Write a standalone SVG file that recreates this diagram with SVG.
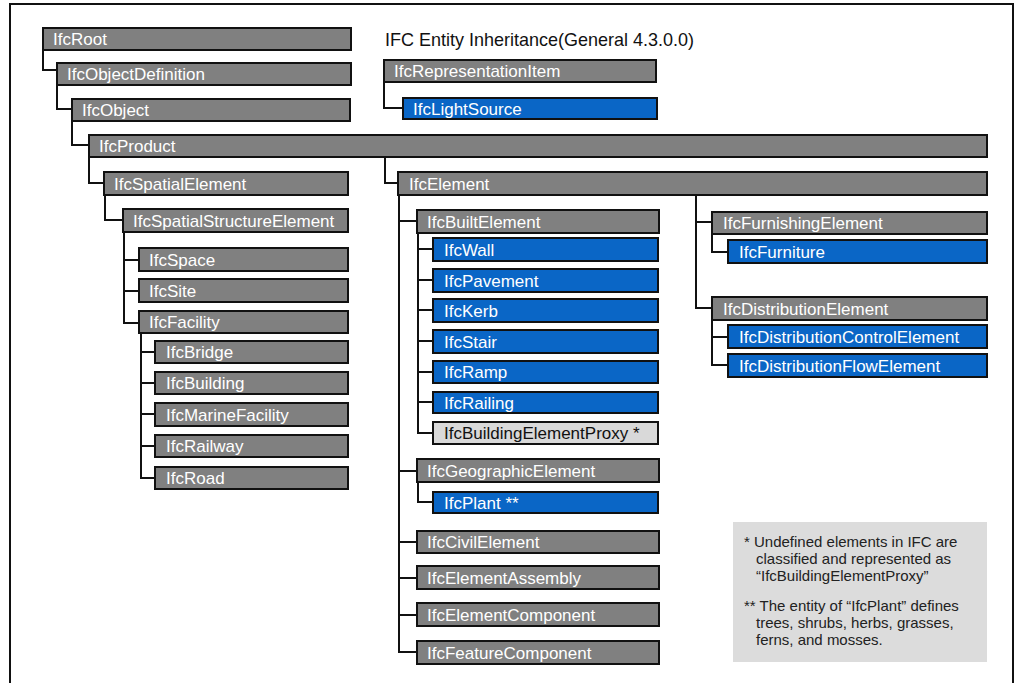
<svg xmlns="http://www.w3.org/2000/svg" width="1018" height="683" viewBox="0 0 1018 683">
<style>
.g{fill:#808080;stroke:#111;stroke-width:2}
.b{fill:#0a66c6;stroke:#111;stroke-width:2}
.l{fill:#d9d9d9;stroke:#111;stroke-width:2}
.t{font-family:"Liberation Sans",Arial,sans-serif;font-size:17px;fill:#fff}
.tk{font-family:"Liberation Sans",Arial,sans-serif;font-size:17px;fill:#111}
.c{fill:none;stroke:#111;stroke-width:2}
.n{font-family:"Liberation Sans",Arial,sans-serif;font-size:15px;fill:#222}
</style>
<rect x="0" y="0" width="1018" height="683" fill="#fff"/>
<rect x="10" y="4" width="1003" height="690" fill="none" stroke="#111" stroke-width="2"/>
<text x="385" y="46" font-family="'Liberation Sans',Arial,sans-serif" font-size="19" fill="#111" textLength="309" lengthAdjust="spacingAndGlyphs">IFC Entity Inheritance(General 4.3.0.0)</text>
<g id="connectors">
<path class="c" d="M43,50V70H57"/>
<path class="c" d="M57,85V109H72"/>
<path class="c" d="M72,121V145H89"/>
<path class="c" d="M384,82V108H403"/>
<path class="c" d="M89,157V183H104"/>
<path class="c" d="M385,157V183H398"/>
<path class="c" d="M105,195V220H123"/>
<path class="c" d="M124,232V323H139M124,260H139M124,291H139"/>
<path class="c" d="M141,333V478H155M141,352H155M141,383H155M141,414H155M141,446H155"/>
<path class="c" d="M399,195V652H417M399,221H417M399,471H417M399,542H417M399,578H417M399,615H417"/>
<path class="c" d="M418,233V433H433M418,249H433M418,280H433M418,310H433M418,341H433M418,372H433M418,402H433"/>
<path class="c" d="M418,482V502H433"/>
<path class="c" d="M696,195V308H712M696,222H712"/>
<path class="c" d="M712,234V252H728"/>
<path class="c" d="M712,320V365H728M712,337H728"/>
</g>
<g id="IfcRoot"><rect class="g" x="43" y="28" width="308" height="22"/><text class="t" x="53" y="45">IfcRoot</text></g>
<g id="IfcObjectDefinition"><rect class="g" x="57" y="63" width="294" height="22"/><text class="t" x="67" y="80">IfcObjectDefinition</text></g>
<g id="IfcObject"><rect class="g" x="72" y="99" width="278" height="22"/><text class="t" x="82" y="116">IfcObject</text></g>
<g id="IfcProduct"><rect class="g" x="89" y="135" width="898" height="22"/><text class="t" x="99" y="152">IfcProduct</text></g>
<g id="IfcRepresentationItem"><rect class="g" x="384" y="60" width="272" height="22"/><text class="t" x="394" y="77">IfcRepresentationItem</text></g>
<g id="IfcLightSource"><rect class="b" x="403" y="98" width="254" height="21"/><text class="t" x="413" y="115">IfcLightSource</text></g>
<g id="IfcSpatialElement"><rect class="g" x="104" y="172" width="244" height="23"/><text class="t" x="114" y="190">IfcSpatialElement</text></g>
<g id="IfcSpatialStructureElement"><rect class="g" x="123" y="209" width="225" height="23"/><text class="t" x="133" y="227">IfcSpatialStructureElement</text></g>
<g id="IfcSpace"><rect class="g" x="139" y="248" width="209" height="23"/><text class="t" x="149" y="266">IfcSpace</text></g>
<g id="IfcSite"><rect class="g" x="139" y="279" width="209" height="23"/><text class="t" x="149" y="297">IfcSite</text></g>
<g id="IfcFacility"><rect class="g" x="139" y="311" width="209" height="22"/><text class="t" x="149" y="328">IfcFacility</text></g>
<g id="IfcBridge"><rect class="g" x="155" y="341" width="193" height="22"/><text class="t" x="166" y="358">IfcBridge</text></g>
<g id="IfcBuilding"><rect class="g" x="155" y="372" width="193" height="22"/><text class="t" x="166" y="389">IfcBuilding</text></g>
<g id="IfcMarineFacility"><rect class="g" x="155" y="403" width="193" height="23"/><text class="t" x="166" y="421">IfcMarineFacility</text></g>
<g id="IfcRailway"><rect class="g" x="155" y="435" width="193" height="22"/><text class="t" x="166" y="452">IfcRailway</text></g>
<g id="IfcRoad"><rect class="g" x="155" y="467" width="193" height="22"/><text class="t" x="166" y="484">IfcRoad</text></g>
<g id="IfcElement"><rect class="g" x="398" y="172" width="589" height="23"/><text class="t" x="409" y="190">IfcElement</text></g>
<g id="IfcBuiltElement"><rect class="g" x="417" y="210" width="242" height="23"/><text class="t" x="427" y="228">IfcBuiltElement</text></g>
<g id="IfcWall"><rect class="b" x="433" y="238" width="225" height="23"/><text class="t" x="444" y="256">IfcWall</text></g>
<g id="IfcPavement"><rect class="b" x="433" y="269" width="225" height="23"/><text class="t" x="444" y="287">IfcPavement</text></g>
<g id="IfcKerb"><rect class="b" x="433" y="299" width="225" height="23"/><text class="t" x="444" y="317">IfcKerb</text></g>
<g id="IfcStair"><rect class="b" x="433" y="330" width="225" height="23"/><text class="t" x="444" y="348">IfcStair</text></g>
<g id="IfcRamp"><rect class="b" x="433" y="361" width="225" height="22"/><text class="t" x="444" y="378">IfcRamp</text></g>
<g id="IfcRailing"><rect class="b" x="433" y="392" width="225" height="21"/><text class="t" x="444" y="409">IfcRailing</text></g>
<g id="IfcBuildingElementProxy"><rect class="l" x="433" y="422" width="225" height="22"/><text class="tk" x="444" y="439">IfcBuildingElementProxy *</text></g>
<g id="IfcGeographicElement"><rect class="g" x="417" y="459" width="242" height="23"/><text class="t" x="427" y="477">IfcGeographicElement</text></g>
<g id="IfcPlant"><rect class="b" x="433" y="492" width="225" height="21"/><text class="t" x="444" y="509">IfcPlant **</text></g>
<g id="IfcCivilElement"><rect class="g" x="417" y="531" width="242" height="22"/><text class="t" x="427" y="548">IfcCivilElement</text></g>
<g id="IfcElementAssembly"><rect class="g" x="417" y="566" width="242" height="23"/><text class="t" x="427" y="584">IfcElementAssembly</text></g>
<g id="IfcElementComponent"><rect class="g" x="417" y="603" width="242" height="23"/><text class="t" x="427" y="621">IfcElementComponent</text></g>
<g id="IfcFeatureComponent"><rect class="g" x="417" y="641" width="242" height="23"/><text class="t" x="427" y="659">IfcFeatureComponent</text></g>
<g id="IfcFurnishingElement"><rect class="g" x="712" y="212" width="275" height="22"/><text class="t" x="723" y="229">IfcFurnishingElement</text></g>
<g id="IfcFurniture"><rect class="b" x="728" y="240" width="259" height="23"/><text class="t" x="739" y="258">IfcFurniture</text></g>
<g id="IfcDistributionElement"><rect class="g" x="712" y="297" width="275" height="23"/><text class="t" x="723" y="315">IfcDistributionElement</text></g>
<g id="IfcDistributionControlElement"><rect class="b" x="728" y="325" width="259" height="23"/><text class="t" x="739" y="343">IfcDistributionControlElement</text></g>
<g id="IfcDistributionFlowElement"><rect class="b" x="728" y="354" width="259" height="23"/><text class="t" x="739" y="372">IfcDistributionFlowElement</text></g>
<g id="note">
<rect x="733" y="522" width="254" height="140" fill="#dcdcdc"/>
<text class="n" x="744" y="547">* Undefined elements in IFC are</text>
<text class="n" x="756" y="564">classified and represented as</text>
<text class="n" x="756" y="581">“IfcBuildingElementProxy”</text>
<text class="n" x="744" y="611">** The entity of “IfcPlant” defines</text>
<text class="n" x="756" y="628">trees, shrubs, herbs, grasses,</text>
<text class="n" x="756" y="645">ferns, and mosses.</text>
</g>
</svg>
